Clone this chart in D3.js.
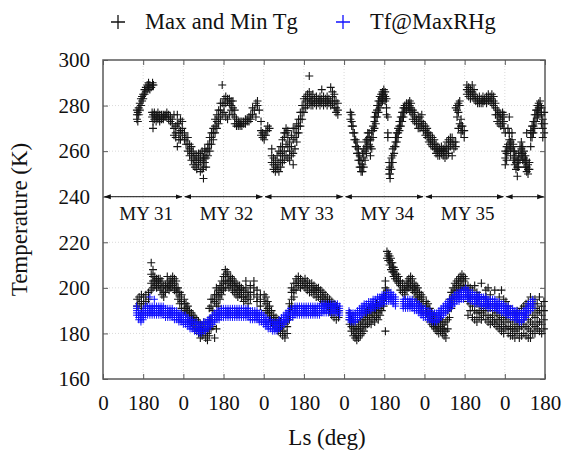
<!DOCTYPE html>
<html>
<head>
<meta charset="utf-8">
<script src="https://cdn.jsdelivr.net/npm/d3@7"></script>
<style>
  body { margin: 0; background: #fff; }
</style>
</head>
<body>
<div id="chart"></div>
<script>
// Mars years shown on the axis, Ls tick labels and temperature ticks
var myYears = [31, 32, 33, 34, 35, 36];
var yearLabels = ["MY 31", "MY 32", "MY 33", "MY 34", "MY 35", ""];
var xTickLabels = ["0", "180", "0", "180", "0", "180", "0", "180", "0", "180", "0", "180"];
var yTicks = [160, 180, 200, 220, 240, 260, 280, 300];
var legendLabels = ["Max and Min Tg", "Tf@MaxRHg"];

// each row: [MY, Ls, T (K) readings at that Ls ...]
var maxTg = [
  [31,152,274,276,278],[31,156,273,277],[31,160,276,279],[31,165,278,281],[31,170,280,283],
  [31,175,282,284],[31,180,283,285],[31,186,285,287],[31,192,286,288],[31,198,287,289],
  [31,204,288,290],[31,210,287,289],[31,216,288],[31,222,289,290],[31,226,289],
  [31,220,275,277],[31,224,273,276,270],[31,230,274,276,277],[31,238,273,275,276],[31,246,274,275,277],
  [31,254,273,274,276],[31,262,274,276],[31,270,275,276,274],[31,278,276,275],[31,286,275,277],
  [31,294,274,276],[31,302,273,275],[31,310,272,274],[31,318,267,270,276],[31,326,266,268,271],
  [31,333,262,272,276],[31,340,265,268,272],[31,347,265,269,274],[31,355,267,270,273],
  [32,5,265,268],[32,12,263,266],[32,20,260,263,266],[32,28,258,261,263],[32,36,256,259,262],
  [32,44,254,257,260],[32,52,253,256,258],[32,60,252,255,258],[32,68,254,256,259],[32,76,251,255,257,259],
  [32,84,252,256,260],[32,90,248,253,257],[32,96,255,258,261],[32,102,253,257,260],[32,110,258,261,263],
  [32,118,260,263,266],[32,126,263,266,268],[32,134,265,268,270],[32,142,268,271,274],[32,150,270,273,276],
  [32,158,272,275,278],[32,166,274,278,281],[32,174,276,281,289],[32,182,277,280,283],[32,190,275,281,284],
  [32,198,274,282,283],[32,206,276,281,283],[32,214,278,280,282],[32,222,276,279,282],[32,230,272,275,278],
  [32,238,271,272,274],[32,246,271,272,273],[32,254,271,272,273],[32,262,271,273],[32,270,272,273],
  [32,278,272,274],[32,286,273,274],[32,294,273,275],[32,302,274,276],[32,310,276,279],
  [32,318,278],[32,325,275,281],[32,332,280,282],[32,340,278],[32,348,267,269,273],[32,355,266,268],
  [33,2,265,267],[33,10,267,269],[33,18,269,271],[33,26,270],[33,36,255,258,261],
  [33,44,252,254,257],[33,52,251,253,256],[33,60,252,254,258],[33,68,251,255,260],[33,76,253,256,259,262],
  [33,84,255,258,262,265],[33,92,256,260,266,268],[33,100,258,263,268,270],[33,108,257,262,266,269],[33,116,256,260,264],
  [33,124,258,262,267],[33,132,254,259,265,270],[33,140,261,266,270],[33,148,264,268,272],[33,156,268,271,274],
  [33,164,271,274,277],[33,172,274,277,280],[33,180,277,280,283],[33,188,279,282,284],[33,196,280,283,285],
  [33,204,281,283,286,293],[33,212,280,282,284],[33,220,280,282,285],[33,228,281,283],[33,236,280,282,284],
  [33,244,281,283],[33,252,280,282,284],[33,260,281,283,287],[33,268,280,282,284],[33,276,281,283],
  [33,284,280,282,284],[33,292,281,283],[33,300,280,282,288],[33,308,281,284,286],[33,316,279,282,285],
  [33,324,277,279,282],[33,332,276,278,281],
  [34,28,274,277],[34,34,271,273,276],[34,40,268,271],[34,46,265,268],[34,52,262,265],
  [34,58,259,262,264],[34,64,256,259,261],[34,70,253,256,258],[34,76,251,253,256],[34,82,251,254,259],
  [34,88,253,257,261],[34,94,256,260,264],[34,100,259,262,265],[34,106,262,265,268],[34,112,263,266,268],
  [34,118,258,262,265],[34,124,261,266,269],[34,130,266,269,271],[34,136,270,273,275],[34,142,272,275,277],
  [34,148,275,278,280],[34,154,277,280,282],[34,160,279,282,284],[34,166,281,283,285],[34,172,282,285,286],
  [34,178,283,285,287],[34,184,282,284,286],[34,190,276,279,283],[34,196,266,268,275],[34,202,250,252,255],
  [34,206,248,250,253],[34,212,252,255,257],[34,218,255,258,261],[34,224,259,262],[34,230,262,264,266],
  [34,236,264,266,268],[34,242,266,268,270],[34,248,269,271,273],[34,254,271,273,275],[34,260,273,275,277],
  [34,266,275,277,279],[34,272,277,279,280],[34,280,278,280,281],[34,288,279,281],[34,294,278,280,282],
  [34,300,277,279,281],[34,308,274,276,278],[34,316,273,275,277],[34,324,272,274],[34,332,270,272,275],
  [34,340,270,273,275],[34,348,271,273,276],[34,355,269,272],
  [35,4,267,269,271],[35,12,266,268,270],[35,20,264,266,268],[35,28,263,265,267],[35,36,262,264,266],
  [35,44,261,263,265],[35,52,259,261,263],[35,60,258,260,262],[35,68,258,260,261],[35,76,259,260,262],
  [35,84,258,260,261],[35,92,257,260,262],[35,100,258,261,264],[35,108,259,262,265],[35,116,262,264,266],
  [35,124,258,263,266],[35,132,261,264],[35,140,262,264,279],[35,146,275,278,280],[35,152,270,277,281],
  [35,158,272,280,282],[35,164,268,271,274],[35,170,269,271],[35,178,266,269],[35,190,285,287,289],
  [35,198,284,286,288],[35,206,283,285,287],[35,214,284,286,289],[35,222,283,285,287],[35,230,282,284],
  [35,238,281,283],[35,246,281,282,284],[35,254,281,283],[35,262,281,282,284],[35,270,282,283],
  [35,278,281,283,284],[35,286,282,283,285],[35,294,282,284],[35,302,281,283,285],[35,310,280,282,284],
  [35,318,276,279,281],[35,326,273,276,278],[35,334,272,275,277],[35,342,271,274,276],[35,350,272,275,277],
  [35,356,270,273,276],
  [36,2,254,257,260,268],[36,8,256,259,262],[36,14,260,263,270],[36,20,262,265,268,275],[36,26,258,261,264],
  [36,32,262,265,268],[36,38,256,260,263],[36,44,254,257,260],[36,50,252,255,258],[36,56,249,253,256],
  [36,62,253,256,259],[36,68,256,259,262],[36,74,258,261,264],[36,80,256,259,262],[36,86,255,257,260],
  [36,92,253,256,258],[36,98,251,253,256,268],[36,104,250,252,254],[36,110,252,255],[36,116,262,266,269],
  [36,122,266,268,271],[36,128,268,271,273],[36,134,270,273,276],[36,140,273,276,278],[36,146,275,278,280],
  [36,152,276,279,281],[36,158,277,280,282],[36,164,272,276,279],[36,170,266,270,274],[36,176,268,272,277]
];

var minTg = [
  [31,153,192,195],[31,162,193,196],[31,172,191,194,197],[31,182,193,196],[31,192,194,197],
  [31,204,195,198],[31,216,199,202,206,211],[31,224,200,203,205,208],[31,232,201,203,205],[31,240,200,202,204],
  [31,248,201,203,204],[31,256,199,202,204],[31,264,197,200,203],[31,272,196,198,201],[31,280,198,201],
  [31,288,200,202,205],[31,296,199,201,203],[31,304,200,202,204],[31,312,201,203,205],[31,320,199,202,204],
  [31,328,198,200,203],[31,336,195,198,200],[31,344,193,196,198],[31,352,191,194,197],
  [32,4,190,193,195],[32,12,189,191,193],[32,20,187,190,192],[32,28,186,188,190],[32,36,185,187,189],
  [32,44,184,186,188],[32,52,182,185,187],[32,60,181,183,186],[32,68,180,183,185],[32,76,178,181,184],
  [32,84,179,181,183],[32,92,180,182,185],[32,100,178,181,184],[32,108,177,180,183],[32,116,179,182,186,191],
  [32,124,182,186,192,195],[32,132,183,190,195],[32,140,178,188,194,197],[32,148,182,193,197,200],[32,156,192,196,199],
  [32,164,195,198,201],[32,172,197,200,203],[32,180,199,202,205],[32,188,200,203,206,208],[32,196,202,205,207],
  [32,204,200,203,205],[32,212,201,203,205],[32,220,199,202,204],[32,228,198,201,203],[32,236,197,200,202],
  [32,244,196,199,201],[32,252,197,199,201],[32,260,196,198,200],[32,270,194,196,199],[32,280,195,197,200,203],
  [32,290,193,196,198],[32,300,195,198,201],[32,316,197,200,203],[32,330,194,196,199],[32,345,192,195,197],
  [33,2,194,197],[33,10,190,193,196],[33,18,189,191,194],[33,26,187,189,192],[33,35,185,188,190],
  [33,45,184,186,188],[33,55,183,185,187],[33,65,181,184,186],[33,75,180,182,185],[33,85,179,181,183],
  [33,95,178,180,184],[33,105,180,183,186],[33,115,186,190,193],[33,125,192,195,198,200],[33,135,196,199,202],
  [33,145,199,202,204],[33,155,201,203,205],[33,165,200,202,204],[33,175,201,203],[33,185,200,202,204],
  [33,195,199,201,203],[33,205,198,201,202],[33,215,198,200,202],[33,225,197,199,201],[33,235,196,199,200],
  [33,245,196,198,200],[33,255,195,197,199],[33,265,194,196,198],[33,275,193,195,197],[33,285,192,194,196],
  [33,295,190,193,195],[33,305,188,192,194],[33,315,187,191,193],[33,325,186,190,192],[33,335,187,190],
  [34,25,184,186,189],[34,33,181,183,186],[34,41,179,182,185],[34,49,178,180,183],[34,57,177,179,182],
  [34,65,178,181,184],[34,73,179,182,185],[34,81,180,183,186],[34,89,181,184,187],[34,97,183,186,189],
  [34,105,184,187,190],[34,113,185,188,191],[34,121,184,187,190],[34,129,186,189,192],[34,137,185,188,191],
  [34,145,187,190,193],[34,153,186,189,192],[34,161,188,191,194],[34,169,190,193,195],[34,177,192,195,197],
  [34,185,181,196,200,203],[34,192,199,213,216],[34,198,212,214,215],[34,204,210,212,214],[34,210,208,211,213],
  [34,216,207,209,211],[34,222,205,207,209],[34,228,204,206,208],[34,236,203,204,206],[34,244,202,203,205],
  [34,252,199,201,203],[34,262,198,200,202],[34,272,197,199,201],[34,282,199,201,203],[34,290,200,202,204],
  [34,298,201,203,205],[34,306,199,201,204],[34,314,198,200,202],[34,322,196,199,201],[34,330,195,197,200],
  [34,338,194,196,198],[34,346,192,195,197],[34,354,190,193,196],
  [35,8,189,192,194],[35,16,187,190,193],[35,24,185,188,191],[35,32,184,187,189],[35,40,183,185,188],
  [35,48,182,184,187],[35,56,181,183,186],[35,64,180,183,185],[35,72,181,183,186],[35,80,180,182,185],
  [35,88,179,182,184],[35,96,178,181,185],[35,104,182,186,190],[35,112,187,191,195],[35,120,191,195,198],
  [35,128,194,197,200],[35,136,196,199,202],[35,144,198,201,203],[35,152,199,202,204],[35,160,200,203,205],
  [35,168,201,204,206],[35,176,200,203,205],[35,184,199,201,204],[35,195,188,194,197,201],[35,205,190,193,196,200],
  [35,215,187,192,195,199],[35,225,186,190,194,201],[35,235,185,189,193,198],[35,245,187,190,196],[35,255,186,189,192,202],
  [35,265,188,191,195],[35,275,186,190,196,199],[35,285,185,188,193,200],[35,295,184,187,191,197],[35,305,185,188,193],
  [35,315,184,186,190,199],[35,325,183,186,189],[35,335,182,185,188,196],[35,345,181,184,187,199],[35,355,180,183,186,195],
  [36,5,182,185,188,194],[36,15,180,183,187,192],[36,25,179,182,185,190],[36,35,179,182,186,189],[36,45,178,181,184,188],
  [36,55,180,183,186,190],[36,65,178,182,185,189],[36,75,179,183,186,191],[36,85,180,184,187,192],[36,95,179,183,188,193],
  [36,105,178,182,186,194],[36,115,178,181,185,190,196],[36,125,180,184,188,193],[36,135,180,183,187,191,195],[36,145,182,185,189,193],
  [36,155,181,185,190,196],[36,165,180,184,188,192],[36,175,182,186,190,194]
];

var tfMaxRH = [
  [31,150,188,189,190,191,192],[31,160,186,187,188,189,190],[31,170,185,186,187,188,189],[31,180,186,187,188,189,190],[31,190,188,189,190,191,192],
  [31,200,188,189,190,191,192],[31,210,188,189,190,191,192,196],[31,220,188,189,190,191,192],[31,230,188,189,190,191,192,195],[31,240,188,189,190,191,192],
  [31,250,188,189,190,191,192],[31,260,188,189,190,191,192],[31,270,188,189,190,191,192],[31,280,187,188,189,190,191],[31,290,187,188,189,190,191],
  [31,300,187,188,189,190,191],[31,310,187,188,189,190,191],[31,320,186,187,188,189,190],[31,330,186,187,188,189,190],[31,340,185,186,187,188,189],
  [31,350,185,186,187,188,189],
  [32,0,184,185,186,187,188],[32,10,184,185,186,187,188],[32,20,183,184,185,186,187],[32,30,182,183,184,185,186],[32,40,182,183,184,185,186],
  [32,50,181,182,183,184,185],[32,60,181,182,183,184,185],[32,70,180,181,182,183,184],[32,80,180,181,182,183,184],[32,90,181,182,183,184,185],
  [32,100,181,182,183,184,185],[32,110,182,183,184,185,186],[32,120,183,184,185,186,187],[32,130,184,185,186,187,188],[32,140,185,186,187,188,189],
  [32,150,186,187,188,189,190],[32,160,186,187,188,189,190],[32,170,187,188,189,190,191],[32,180,187,188,189,190,191],[32,190,187,188,189,190,191],
  [32,200,187,188,189,190,191],[32,210,187,188,189,190,191],[32,220,187,188,189,190,191],[32,230,187,188,189,190,191],[32,240,187,188,189,190,191],
  [32,250,187,188,189,190,191],[32,260,187,188,189,190,191],[32,270,187,188,189,190,191],[32,280,187,188,189,190,191],[32,290,187,188,189,190,191],
  [32,300,186,187,188,189,190],[32,310,186,187,188,189,190],[32,320,186,187,188,189,190],[32,330,186,187,188,189,190],[32,340,185,186,187,188,189],
  [32,350,185,186,187,188,189],
  [33,0,184,185,186,187,188],[33,10,183,184,185,186,187],[33,20,182,183,184,185,186],[33,30,182,183,184,185,186],[33,40,181,182,183,184,185],
  [33,50,181,182,183,184,185],[33,60,181,182,183,184,185],[33,70,182,183,184,185,186],[33,80,183,184,185,186,187],[33,90,184,185,186,187,188],
  [33,100,185,186,187,188,189],[33,110,186,187,188,189,190],[33,120,187,188,189,190,191],[33,130,187,188,189,190,191],[33,140,188,189,190,191,192],
  [33,150,188,189,190,191,192],[33,160,188,189,190,191,192],[33,170,188,189,190,191,192],[33,180,188,189,190,191,192],[33,190,188,189,190,191,192],
  [33,200,188,189,190,191,192],[33,210,188,189,190,191,192],[33,220,188,189,190,191,192],[33,230,188,189,190,191,192],[33,240,188,189,190,191,192],
  [33,250,188,189,190,191,192],[33,260,189,190,191,192,193],[33,270,189,190,191,192,193],[33,280,189,190,191,192,193],[33,290,189,190,191,192,193],
  [33,300,189,190,191,192,193],[33,310,189,190,191,192,193],[33,320,189,190,191,192,193],[33,330,189,190,191,192,193],[33,340,188,189,190,191,192],
  [34,22,186,187,188,189,190],[34,30,185,186,187,188,189],[34,40,185,186,187,188,189],[34,50,185,186,187,188,189],[34,60,186,187,188,189,190],
  [34,70,187,188,189,190,191],[34,80,188,189,190,191,192],[34,90,189,190,191,192,193],[34,100,189,190,191,192,193],[34,110,190,191,192,193,194],
  [34,120,190,191,192,193,194],[34,130,191,192,193,194,195],[34,140,191,192,193,194,195],[34,150,192,193,194,195,196],[34,160,192,193,194,195,196],
  [34,170,193,194,195,196,197],[34,180,193,194,195,196,197],[34,190,194,195,196,197,198],[34,200,194,195,196,197,198],[34,210,194,195,196,197,198],
  [34,220,193,194,195,196,197],[34,230,192,193,194,195,196],[34,265,191,192,193,194,195],[34,275,191,192,193,194,195],[34,285,191,192,193,194,195],
  [34,295,191,192,193,194,195],[34,305,191,192,193,194,195],[34,315,190,191,192,193,194],[34,325,190,191,192,193,194],[34,335,189,190,191,192,193],
  [34,345,188,189,190,191,192],[34,355,187,188,189,190,191],
  [35,5,187,188,189,190,191],[35,15,186,187,188,189,190],[35,25,186,187,188,189,190],[35,35,185,186,187,188,189],[35,45,185,186,187,188,189],
  [35,55,185,186,187,188,189],[35,65,186,187,188,189,190],[35,75,187,188,189,190,191],[35,85,188,189,190,191,192],[35,95,189,190,191,192,193],
  [35,105,190,191,192,193,194],[35,115,191,192,193,194,195],[35,125,192,193,194,195,196],[35,135,193,194,195,196,197],[35,145,194,195,196,197,198],
  [35,155,194,195,196,197,198],[35,165,195,196,197,198,199],[35,175,195,196,197,198,199],[35,185,196,197,198,199,200],[35,195,195,196,197,198,199],
  [35,205,194,195,196,197,198],[35,215,194,195,196,197,198],[35,225,193,194,195,196,197],[35,235,193,194,195,196,197],[35,245,193,194,195,196,197],
  [35,255,192,193,194,195,196],[35,265,192,193,194,195,196],[35,275,192,193,194,195,196],[35,285,191,192,193,194,195],[35,295,191,192,193,194,195],
  [35,305,191,192,193,194,195],[35,315,191,192,193,194,195],[35,325,190,191,192,193,194],[35,335,190,191,192,193,194],[35,345,189,190,191,192,193],
  [35,355,189,190,191,192,193],
  [36,5,188,189,190,191,192],[36,15,188,189,190,191,192],[36,25,187,188,189,190,191],[36,35,187,188,189,190,191],[36,45,186,187,188,189,190],
  [36,55,186,187,188,189,190],[36,65,185,186,187,188,189],[36,75,185,186,187,188,189],[36,85,186,187,188,189,190],[36,95,187,188,189,190,191],
  [36,105,189,190,191,192,193],[36,115,190,191,192,193,194],[36,125,191,192,193,194,195]
];

var W = 563, H = 450;
var plot = {left: 103, right: 545, top: 60, bottom: 379};
var serif = "'Liberation Serif'";

var svg = d3.select("#chart").append("svg")
  .attr("width", W)
  .attr("height", H);

var x = d3.scaleLinear()
  .domain([0, 360 * (myYears.length - 1) + 180])
  .range([plot.left, plot.right]);

var y = d3.scaleLinear()
  .domain([160, 300])
  .range([plot.bottom, plot.top]);

// cumulative Ls since start of first Mars year
function lsCum(my, ls) { return (my - myYears[0]) * 360 + ls; }

function flatten(rows) {
  return rows.flatMap(function(r) {
    return r.slice(2).map(function(t) { return {ls: lsCum(r[0], r[1]), t: t}; });
  });
}

var xTickVals = xTickLabels.map(function(d, i) { return i * 180; });

// grid
var grid = svg.append("g");
grid.selectAll("line.gx")
  .data(xTickVals.slice(1, -1))
  .join("line")
  .attr("x1", d => x(d)).attr("x2", d => x(d))
  .attr("y1", plot.top).attr("y2", plot.bottom)
  .attr("stroke", "#c8c8c8").attr("stroke-width", 0.7)
  .attr("stroke-dasharray", "1,2");
grid.selectAll("line.gy")
  .data(yTicks.slice(1, -1))
  .join("line")
  .attr("x1", plot.left).attr("x2", plot.right)
  .attr("y1", d => y(d)).attr("y2", d => y(d))
  .attr("stroke", "#c8c8c8").attr("stroke-width", 0.7)
  .attr("stroke-dasharray", "1,2");

// axes (ticks inside, mirrored)
var tickLen = 5;
var axisColor = "#5a5a5a";
var axes = svg.append("g");
axes.append("g")
  .attr("transform", "translate(0," + plot.bottom + ")")
  .call(d3.axisBottom(x).tickValues(xTickVals).tickSize(-tickLen).tickFormat((d, i) => xTickLabels[i]).tickPadding(16));
axes.append("g")
  .attr("transform", "translate(0," + plot.top + ")")
  .call(d3.axisTop(x).tickValues(xTickVals).tickSize(-tickLen).tickFormat(""));
axes.append("g")
  .attr("transform", "translate(" + plot.left + ",0)")
  .call(d3.axisLeft(y).tickValues(yTicks).tickSize(-tickLen).tickPadding(13));
axes.append("g")
  .attr("transform", "translate(" + plot.right + ",0)")
  .call(d3.axisRight(y).tickValues(yTicks).tickSize(-tickLen).tickFormat(""));
axes.selectAll(".domain").remove();
axes.selectAll(".tick line").attr("stroke", axisColor);
axes.selectAll("text")
  .attr("fill", "#111")
  .style("font-family", serif)
  .style("font-size", "21px");

svg.append("rect")
  .attr("x", plot.left).attr("y", plot.top)
  .attr("width", plot.right - plot.left).attr("height", plot.bottom - plot.top)
  .attr("fill", "none").attr("stroke", axisColor).attr("stroke-width", 1.5);

// year arrows along T = 240
var defs = svg.append("defs");
defs.append("marker")
  .attr("id", "ah")
  .attr("viewBox", "0 0 10 10")
  .attr("refX", 9).attr("refY", 5)
  .attr("markerWidth", 7).attr("markerHeight", 7)
  .attr("orient", "auto-start-reverse")
  .append("path").attr("d", "M0,1.5L10,5L0,8.5Z").attr("fill", "#111");

var spans = myYears.map(function(my, i) {
  var a = i * 360, b = Math.min((i + 1) * 360, x.domain()[1]);
  return {a: a, b: b, label: yearLabels[i]};
});
var yArrow = y(240);
svg.append("g").selectAll("line")
  .data(spans)
  .join("line")
  .attr("x1", d => x(d.a) + 1.5)
  .attr("x2", d => x(d.b) - 1.5)
  .attr("y1", yArrow).attr("y2", yArrow)
  .attr("stroke", "#111").attr("stroke-width", 1)
  .attr("marker-start", "url(#ah)")
  .attr("marker-end", "url(#ah)");
svg.append("g").selectAll("text")
  .data(spans)
  .join("text")
  .attr("x", d => (x(d.a) + x(d.b)) / 2 + 3)
  .attr("y", yArrow + 23)
  .attr("text-anchor", "middle")
  .style("font-family", serif)
  .style("font-size", "19px")
  .attr("fill", "#111")
  .text(d => d.label);

// markers
var plusBlack = "M-4,0H4M0,-4V4";
var plusBlue = "M-3.5,0H3.5M0,-3.5V3.5";
var black = flatten(maxTg).concat(flatten(minTg));
svg.append("g").selectAll("path")
  .data(black)
  .join("path")
  .attr("d", plusBlack)
  .attr("transform", d => "translate(" + x(d.ls) + "," + y(d.t) + ")")
  .attr("stroke", "#141414").attr("stroke-width", 1.1).attr("fill", "none");

svg.append("g").selectAll("path")
  .data(flatten(tfMaxRH))
  .join("path")
  .attr("d", plusBlue)
  .attr("transform", d => "translate(" + x(d.ls) + "," + y(d.t) + ")")
  .attr("stroke", "#1010ff").attr("stroke-width", 1).attr("fill", "none");

// axis titles
svg.append("text")
  .attr("transform", "translate(27," + (plot.top + plot.bottom) / 2 + ") rotate(-90)")
  .attr("text-anchor", "middle")
  .style("font-family", serif)
  .style("font-size", "23px")
  .attr("fill", "#111")
  .text("Temperature (K)");
svg.append("text")
  .attr("x", (plot.left + plot.right) / 2 + 3)
  .attr("y", 445)
  .attr("text-anchor", "middle")
  .style("font-family", serif)
  .style("font-size", "23px")
  .attr("fill", "#111")
  .text("Ls (deg)");

// legend
var legend = svg.append("g");
var legendItems = [
  {label: legendLabels[0], color: "#111", mx: 118, tx: 145},
  {label: legendLabels[1], color: "#1010ff", mx: 343, tx: 370}
];
legend.selectAll("path")
  .data(legendItems)
  .join("path")
  .attr("d", "M-7,0H7M0,-7V7")
  .attr("transform", d => "translate(" + d.mx + ",22)")
  .attr("stroke", d => d.color).attr("stroke-width", 1.3);
legend.selectAll("text")
  .data(legendItems)
  .join("text")
  .attr("x", d => d.tx)
  .attr("y", 29)
  .style("font-family", serif)
  .style("font-size", "22.5px")
  .attr("fill", "#111")
  .text(d => d.label);
</script>
</body>
</html>
